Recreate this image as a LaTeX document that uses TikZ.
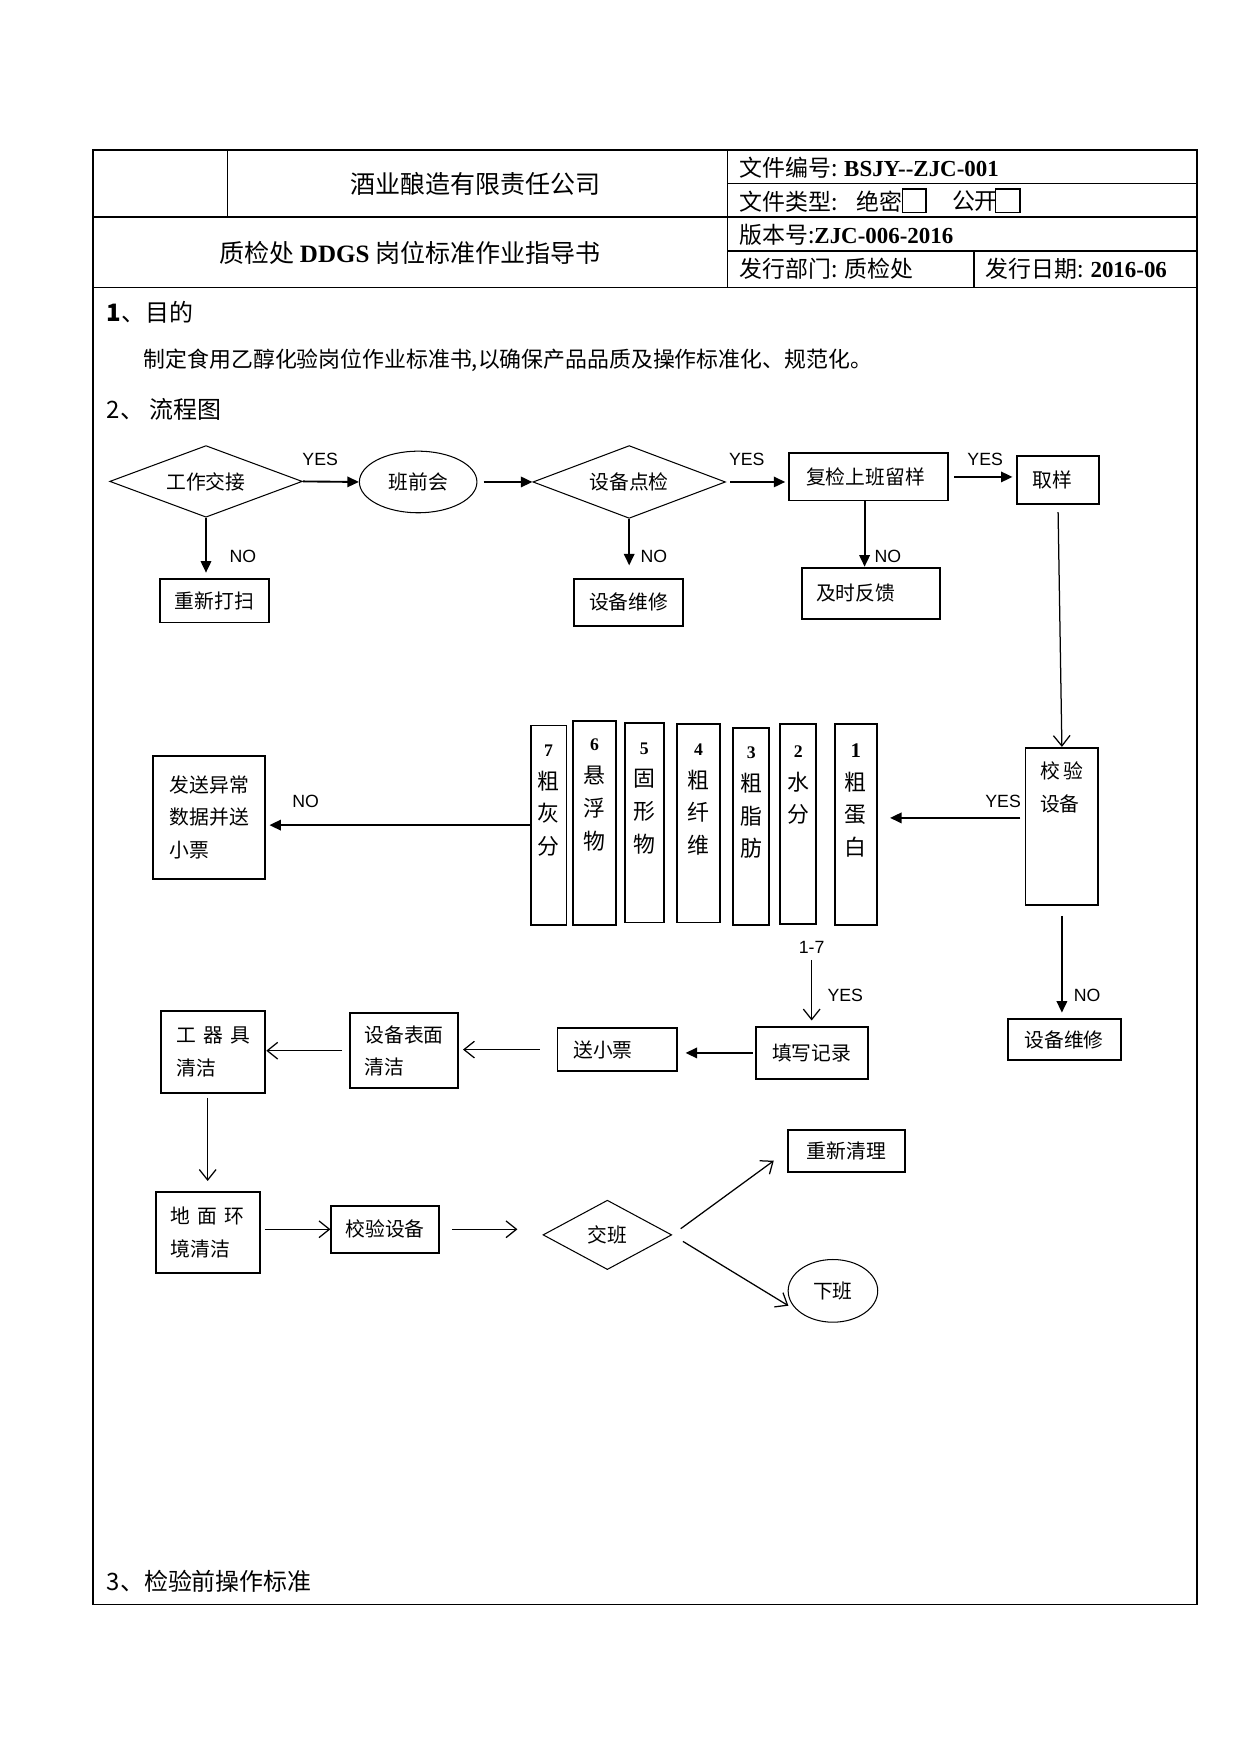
\documentclass[tikz,border=0pt]{standalone}
\usepackage{fontspec}
\setmainfont{Noto Sans CJK SC}
\newfontfamily\tmsfont{Liberation Serif}
\newfontfamily\lsfont{Liberation Sans}
\usetikzlibrary{math,shapes.geometric,arrows.meta}

\newcommand{\cnum}[1]{{\tmsfont\bfseries\fontsize{8.5}{10}\selectfont #1}}

\tikzset{
  sz/.style 2 args={minimum width=#1*\ps*1pt, minimum height=#2*\ps*1pt},
  box/.style={draw, line width=0.9pt, rectangle, inner sep=0pt, align=left, font=\fontsize{9.5}{15.5}\selectfont},
  dia/.style={draw, line width=0.5pt, diamond, aspect=2.7, inner sep=1pt, font=\fontsize{9.5}{11}\selectfont},
  ell/.style={draw, line width=0.5pt, ellipse, inner sep=0pt, font=\fontsize{9.5}{11}\selectfont},
  col/.style={draw, line width=0.9pt, rectangle, inner sep=0pt},
  coltext/.style={anchor=north, inner sep=0pt, align=center, font=\fontsize{10.5}{15.7}\selectfont},
  yn/.style={inner sep=0pt, font=\lsfont\fontsize{8.5}{10}\selectfont},
  farr/.style={-{Triangle[length=5.5pt,width=5pt]}, line width=0.9pt},
  oarr/.style={-{Straight Barb[length=5pt,width=8pt]}, line width=0.6pt},
  grid/.style={line width=0.7pt},
  hd/.style={anchor=west, inner sep=0pt, font=\fontsize{11}{13}\selectfont},
  sec/.style={anchor=west, inner sep=0pt, font=\fontsize{11.5}{14}\selectfont},
}

\begin{document}
\begin{tikzpicture}[x=0.5372pt,y=-0.5372pt]

\tikzmath{
\ps = 0.5372;
}

\useasboundingbox (0,0) rectangle (1108.2,1566.7);

\draw[grid] (83,134) rectangle (1069,1433);
\draw[grid] (83,194) -- (1069,194);
\draw[grid] (83,257) -- (1069,257);
\draw[grid] (203,134) -- (203,194);
\draw[grid] (650,134) -- (650,257);
\draw[grid] (650,164) -- (1069,164);
\draw[grid] (650,224) -- (1069,224);
\draw[grid] (870,224) -- (870,257);

\node[font=\fontsize{12}{14}\selectfont] (company) at (425,164) {酒业酿造有限责任公司};
\node[font=\fontsize{12}{14}\selectfont] (title) at (366,226) {质检处 {\tmsfont\bfseries DDGS} 岗位标准作业指导书};
\node[hd] (docno) at (660,150) {文件编号: {\tmsfont\bfseries BSJY-{}-ZJC-001}};
\node[hd] (doctype) at (660,180) {文件类型:};
\node[hd] (secret) at (765,180) {绝密};
\node[hd] (public) at (850,180) {公开};
\draw[grid] (806,169) rectangle (827,190);
\draw[grid] (889,169) rectangle (911,190);
\node[hd] (version) at (660,210) {版本号:{\tmsfont\bfseries ZJC-006-2016}};
\node[hd] (dept) at (660,240) {发行部门: 质检处};
\node[hd] (date) at (880,240) {发行日期: {\tmsfont\bfseries 2016-06}};

\node[sec] (sec1) at (95,279) {\textbf{1}、目的};
\node[anchor=west, inner sep=0pt, font=\fontsize{10.5}{12}\selectfont] (aim) at (128,322) {制定食用乙醇化验岗位作业标准书,以确保产品品质及操作标准化、规范化。};
\node[sec] (sec2) at (95,366) {2、 流程图};
\node[sec] (sec3) at (95,1412) {3、检验前操作标准};

\node[dia, sz={172}{64}] (d1) at (184,430) {工作交接};
\node[ell, sz={105}{55}] (e1) at (373.5,430.5) {班前会};
\node[dia, sz={172}{65}] (d2) at (562,430.5) {设备点检};
\node[box, sz={142}{42}, text width=112*\ps*1pt] (fj) at (776,426) {复检上班留样};
\node[box, sz={74}{43}, text width=46*\ps*1pt] (qy) at (945,428.5) {取样};
\node[box, sz={97}{39}] (b1) at (191.5,536.5) {重新打扫};
\node[box, sz={97}{42}] (wx1) at (561.5,538) {设备维修};
\node[box, sz={124}{46}, text width=98*\ps*1pt] (jf) at (778,530) {及时反馈};

\node[col, sz={65}{140}] (vb) at (948.5,738) {};
\node[anchor=north, inner sep=0pt, align=left, font=\fontsize{9.5}{15.7}\selectfont] (vbt) at ([yshift=-7pt]vb.north) {校\hspace{2pt}验\\设备};

\node[col, sz={37}{179}] (c1) at (764.5,736.5) {};
\node[coltext] (t1) at ([yshift=-9.5pt]c1.north) {{\tmsfont\bfseries\fontsize{10}{10}\selectfont 1}\\粗\\蛋\\白};
\node[col, sz={32}{178}] (c2) at (713,736) {};
\node[coltext] (t2) at ([yshift=-10.5pt]c2.north) {\cnum{2}\\水\\分};
\node[col, sz={32}{176}] (c3) at (671,738) {};
\node[coltext] (t3) at ([yshift=-9.5pt]c3.north) {\cnum{3}\\粗\\脂\\肪};
\node[col, sz={38}{177}] (c4) at (624,735.5) {};
\node[coltext] (t4) at ([yshift=-9.5pt]c4.north) {\cnum{4}\\粗\\纤\\维};
\node[col, sz={35}{178}] (c5) at (575.5,735) {};
\node[coltext] (t5) at ([yshift=-9.5pt]c5.north) {\cnum{5}\\固\\形\\物};
\node[col, sz={38}{182}] (c6) at (531,735) {};
\node[coltext] (t6) at ([yshift=-9pt]c6.north) {\cnum{6}\\悬\\浮\\物};
\node[col, sz={32}{178}] (c7) at (490,737) {};
\node[coltext] (t7) at ([yshift=-9.5pt]c7.north) {\cnum{7}\\粗\\灰\\分};

\node[box, sz={100}{110}] (fs) at (187,730) {发送异常\\数据并送\\小票};

\node[yn] (r17) at (725,846) {1-7};
\node[box, sz={100}{47}] (tx) at (725,940.5) {填写记录};
\node[box, sz={107}{39}, text width=79*\ps*1pt] (sx) at (551.5,937.5) {送小票};
\node[box, sz={96}{67}] (bm) at (361,938.5) {设备表面\\清洁};
\node[box, sz={93}{73}] (gq) at (190.5,939.5) {工\hspace{3.5pt}器\hspace{3.5pt}具\\清洁};
\node[box, sz={101}{37}] (wx2) at (950.5,928.5) {设备维修};
\node[box, sz={93}{72}] (dm) at (185.5,1101) {地\hspace{3.5pt}面\hspace{3.5pt}环\\境清洁};
\node[box, sz={96}{42}] (jy) at (344,1098) {校验设备};
\node[dia, sz={115}{62}] (jb) at (542.5,1103) {交班};
\node[box, sz={104}{38}] (cl) at (756,1028) {重新清理};
\node[ell, sz={80}{56}] (xb) at (744,1153) {下班};

\draw[farr] (d1.east) -- (e1.west);
\node[yn] (y1) at (286,410) {YES};
\draw[farr, shorten <=3pt] (e1.east) -- (d2.west);
\draw[farr, shorten <=2pt, shorten >=1.5pt] (d2.east) -- (d2.east -| fj.west);
\node[yn] (y2) at (667,410) {YES};
\draw[farr, shorten <=2.5pt, shorten >=1.5pt] (fj.east) -- (fj.east -| qy.west);
\node[yn] (y3) at (880,410) {YES};
\draw[farr, shorten >=2.5pt] (d1.south) -- (d1.south |- b1.north);
\node[yn] (n1) at (217,497) {NO};
\draw[farr, shorten >=6pt] (d2.south) -- (d2.south |- wx1.north);
\node[yn] (n2) at (584,497) {NO};
\draw[farr] ([xshift=-2pt]fj.south) -- ([xshift=-2pt]fj.south |- jf.north);
\node[yn] (n3) at (793,497) {NO};
\draw[oarr, shorten <=3.5pt] (qy.south) -- (vb.north);
\draw[farr, shorten <=2pt, shorten >=6pt] ([yshift=4pt]vb.west) -- ([yshift=4pt]vb.west -| c1.east);
\node[yn] (y4) at (896,716) {YES};
\draw[farr, shorten >=1.5pt] (c7.west) -- (c7.west -| fs.east);
\node[yn] (n4) at (273,716) {NO};
\draw[oarr, shorten <=3pt, shorten >=2.5pt] (r17.south) -- (r17.south |- tx.north);
\node[yn] (y5) at (755,889) {YES};
\draw[farr, shorten <=5pt, shorten >=2.5pt] (vb.south) -- (vb.south |- wx2.north);
\node[yn] (n5) at (971,889) {NO};
\draw[farr, shorten <=1pt, shorten >=3.5pt] (tx.west) -- (tx.west -| sx.east);
\draw[oarr, shorten <=8pt, shorten >=2pt] (sx.west) -- (sx.west -| bm.east);
\draw[oarr, shorten <=3.5pt] (bm.west) -- (bm.west -| gq.east);
\draw[oarr, shorten <=2pt, shorten >=5pt] (dm.north |- gq.south) -- (dm.north);
\draw[oarr, shorten <=2pt] (dm.east |- jy.west) -- (jy.west);
\draw[oarr, shorten <=6pt, shorten >=12pt] (jy.east) -- (jy.east -| jb.west);
\draw[oarr, shorten <=5pt, shorten >=8pt] (jb.east) -- (cl.west);
\draw[oarr, shorten <=6pt, shorten >=7pt] (jb.east) -- (xb.215);

\end{tikzpicture}
\end{document}
